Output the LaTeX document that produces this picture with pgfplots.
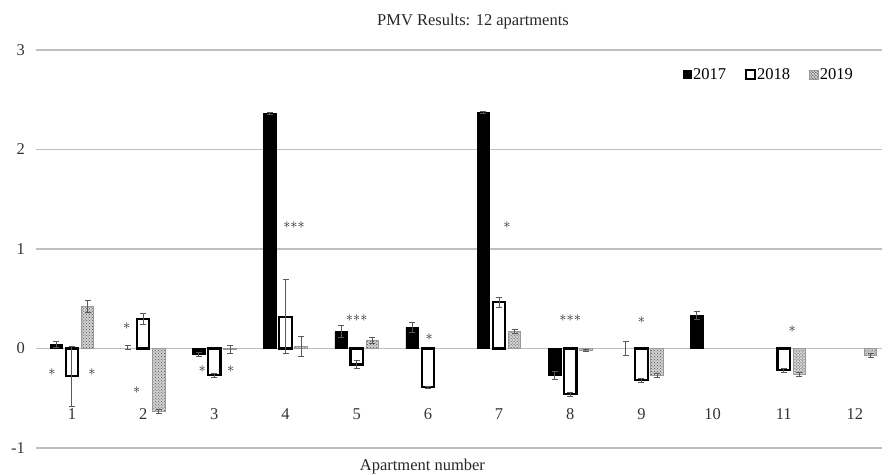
\documentclass[border=0pt]{standalone}
\usepackage{fontspec}
\setmainfont{Liberation Serif}
\usepackage{pgfplots}
\pgfplotsset{compat=1.18}
\usetikzlibrary{patterns}
\newcommand\fs{\fontsize{15.5bp}{18bp}\selectfont}
\newcommand\fsl{\fontsize{16.5bp}{19bp}\selectfont}
\newcommand\st{{\fontsize{15bp}{15bp}\selectfont$\ast$}}
\newcommand\sts{{\fontsize{15bp}{15bp}\selectfont${\ast}{\ast}{\ast}$}}

\pgfplotstableread{
x y e
1 0.04 0.03
3 -0.06 0.02
4 2.36 0.01
5 0.17 0.06
6 0.21 0.05
7 2.37 0.01
8 -0.27 0.04
10 0.335 0.04
}\dataA
\pgfplotstableread{
x y e
2 0.01 0.02
9 0.00 0.07
}\dataAerr
\pgfplotstableread{
x y e
1 -0.28 0.30
2 0.30 0.055
3 -0.27 0.02
4 0.32 0.37
5 -0.16 0.04
6 -0.39 0.01
7 0.465 0.05
8 -0.46 0.02
9 -0.32 0.02
11 -0.22 0.02
}\dataB
\pgfplotstableread{
x y e
1 0.425 0.06
2 -0.63 0.02
3 -0.01 0.04
4 0.02 0.10
5 0.085 0.03
7 0.17 0.02
8 -0.02 0.01
9 -0.27 0.02
11 -0.26 0.02
12 -0.07 0.02
}\dataC

\begin{document}
\begin{tikzpicture}
\begin{axis}[
  name=ax,
  width=845.6bp, height=398bp, scale only axis,
  xmin=0.5, xmax=12.38, ymin=-1, ymax=3,
  ytick={-1,0,1,2,3},
  xtick={1,...,12},
  ymajorgrids,
  major grid style={draw=gray!50, line width=1.3bp},
  axis line style={draw=none},
  tick style={draw=none},
  /pgf/number format/assume math mode=true,
  tick label style={font=\fsl, text=black!80},
  yticklabel style={xshift=-8bp},
  xticklabel style={anchor=center, yshift=38bp},
  ybar, bar width=0.175,
  clip=false,
  error bars/y dir=both, error bars/y explicit,
  error bars/error bar style={draw=gray!70!black, line width=1bp},
  error bars/error mark options={rotate=90, mark size=3bp, draw=gray!70!black, line width=1bp},
  legend columns=3,
  legend style={at={(0.866,0.938)}, anchor=center, draw=none, fill=none, font=\fsl,
    /tikz/every even column/.append style={column sep=17bp},
    nodes={inner sep=1.5bp}},
]
\addplot[fill=black, draw=black, line width=0.5bp, bar shift=-0.22,
  legend image code/.code={\fill[black] (0bp,-4bp) rectangle (8bp,4bp);}]
  table[x=x, y=y, y error=e] {\dataA};
\addlegendentry{2017}
\addplot[fill=white, draw=black, line width=2.2bp, bar shift=0,
  legend image code/.code={\draw[black, line width=2bp, fill=white] (0bp,-4.5bp) rectangle (9bp,4.5bp);}]
  table[x=x, y=y, y error=e] {\dataB};
\addlegendentry{2018}
\addplot[fill=gray!35, postaction={pattern=crosshatch dots, pattern color=gray!60!black}, draw=gray!80, line width=1bp, bar shift=0.22,
  legend image code/.code={\draw[gray!80, line width=0.8bp, fill=gray!35, postaction={pattern=crosshatch dots, pattern color=gray!60!black}] (0bp,-4.5bp) rectangle (9bp,4.5bp);}]
  table[x=x, y=y, y error=e] {\dataC};
\addlegendentry{2019}
\addplot[draw=none, fill=none, bar shift=-0.22, forget plot]
  table[x=x, y=y, y error=e] {\dataAerr};

\begin{scope}[every node/.style={text=black!85, inner sep=0pt}]
\node at (axis cs:0.72,-0.24) {\st};
\node at (axis cs:1.28,-0.24) {\st};
\node at (axis cs:1.77,0.22) {\st};
\node at (axis cs:1.91,-0.42) {\st};
\node at (axis cs:2.83,-0.21) {\st};
\node at (axis cs:3.23,-0.21) {\st};
\node at (axis cs:4.12,1.24) {\sts};
\node at (axis cs:5.0,0.30) {\sts};
\node at (axis cs:6.02,0.11) {\st};
\node at (axis cs:7.11,1.24) {\st};
\node at (axis cs:8.0,0.30) {\sts};
\node at (axis cs:9.0,0.28) {\st};
\node at (axis cs:11.12,0.19) {\st};
\end{scope}
\end{axis}
\node[font=\fsl, text=black!85] at ([xshift=436.6bp, yshift=28bp]ax.north west) {PMV Results: 12 apartments};
\node[font=\fsl, text=black!85] at ([xshift=386bp, yshift=-19bp]ax.south west) {Apartment number};
\pgfresetboundingbox
\path[use as bounding box] ([xshift=-36.4bp,yshift=-28bp]ax.south west) rectangle ([yshift=50bp]ax.north east);
\end{tikzpicture}
\end{document}
